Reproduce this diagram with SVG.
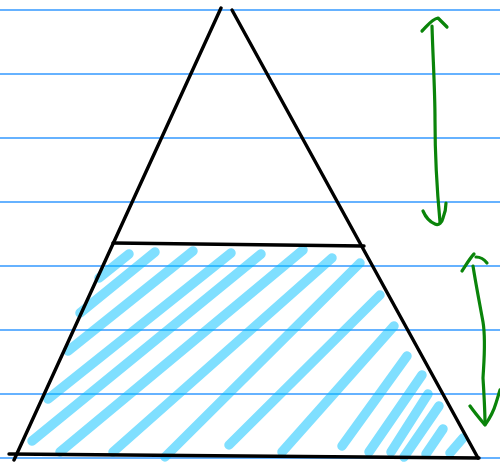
<svg xmlns="http://www.w3.org/2000/svg" width="500" height="462" viewBox="0 0 500 462">
<style>
.rule{stroke:#3399ff;stroke-width:1.3;fill:none}
.hatch{stroke:#00bfff;stroke-opacity:0.5;stroke-width:9.5;stroke-linecap:round;fill:none}
.edge{stroke:#000;stroke-width:3.4;stroke-linecap:round;fill:none}
.arrow{stroke:#0a840a;stroke-width:3.2;stroke-linecap:round;stroke-linejoin:round;fill:none}
</style>
<rect width="500" height="462" fill="#fff"/>
<g id="rules">
<line class="rule" x1="0" y1="10" x2="500" y2="10"/>
<line class="rule" x1="0" y1="74" x2="500" y2="74"/>
<line class="rule" x1="0" y1="138" x2="500" y2="138"/>
<line class="rule" x1="0" y1="202" x2="500" y2="202"/>
<line class="rule" x1="0" y1="266" x2="500" y2="266"/>
<line class="rule" x1="0" y1="330" x2="500" y2="330"/>
<line class="rule" x1="0" y1="394" x2="500" y2="394"/>
<line class="rule" x1="0" y1="458" x2="500" y2="458"/>
</g>
<g id="hatching">
<line class="hatch" x1="129" y1="254" x2="99" y2="278"/>
<line class="hatch" x1="155" y1="252" x2="80" y2="313"/>
<line class="hatch" x1="193" y1="251" x2="68" y2="351"/>
<line class="hatch" x1="231" y1="253" x2="48" y2="399"/>
<line class="hatch" x1="261" y1="254" x2="32" y2="441"/>
<line class="hatch" x1="303" y1="250" x2="60" y2="452"/>
<line class="hatch" x1="332" y1="258" x2="113" y2="452"/>
<line class="hatch" x1="360" y1="263" x2="165" y2="457"/>
<line class="hatch" x1="380" y1="295" x2="229" y2="445"/>
<line class="hatch" x1="394" y1="326" x2="282" y2="452"/>
<line class="hatch" x1="407" y1="356" x2="342" y2="446"/>
<line class="hatch" x1="422" y1="375" x2="369" y2="452"/>
<line class="hatch" x1="428" y1="394" x2="391" y2="452"/>
<line class="hatch" x1="439" y1="406" x2="404" y2="457"/>
<line class="hatch" x1="443" y1="429" x2="426" y2="454"/>
<line class="hatch" x1="463" y1="438" x2="450" y2="453"/>
</g>
<g id="triangle">
<line class="edge" x1="221" y1="8" x2="14" y2="460"/>
<line class="edge" x1="232" y1="10" x2="478" y2="458"/>
<line class="edge" x1="113" y1="243" x2="364" y2="246"/>
<line class="edge" x1="9" y1="454" x2="479" y2="458"/>
</g>
<g id="arrow-top">
<path class="arrow" d="M432,26 C433,60 435,90 435,120 C435,160 437,190 440,222"/>
<path class="arrow" d="M422,31 C428,25 432,19 438,18 C441,21 444,24 447,27"/>
<path class="arrow" d="M423,211 C426,218 430,222 435,224 C439,226 442,222 443,218 C445,213 446,208 446,203"/>
</g>
<g id="arrow-bottom">
<path class="arrow" d="M473,266 C476,285 479,300 483,322 C486,340 484,360 483,378 C484,395 485,410 485,424"/>
<path class="arrow" d="M462,271 C466,265 470,258 474,254"/>
<path class="arrow" d="M476,257 C480,257 484,259 487,263"/>
<path class="arrow" d="M470,406 C475,413 480,419 485,425 C490,418 494,410 496,403 C498,397 499,393 500,390"/>
</g>
</svg>
